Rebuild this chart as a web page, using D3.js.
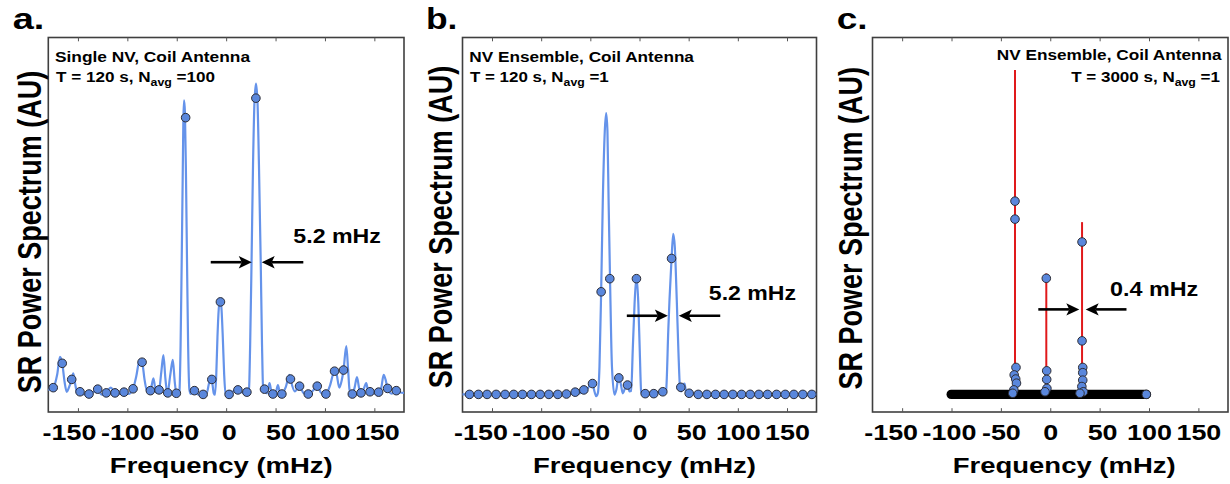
<!DOCTYPE html>
<html><head><meta charset="utf-8">
<script src="https://cdn.jsdelivr.net/npm/d3@7"></script>
<style>
html,body{margin:0;padding:0;background:#fff;}
svg{display:block;}
</style></head><body>
<svg id="chart" width="1230" height="484"></svg>
<script>
// ---------------- data ----------------
const xTickValues = [-150, -100, -50, 0, 50, 100, 150];
const xTickLabels = ["-150", "-100", "-50", "0", "50", "100", "150"];
const panelLetters = ["a.", "b.", "c."];
const titleLine1 = ["Single NV, Coil Antenna", "NV Ensemble, Coil Antenna", "NV Ensemble, Coil Antenna"];
const titleLine2Main = ["T = 120 s, N", "T = 120 s, N", "T = 3000 s, N"];
const titleLine2Sub = ["avg", "avg", "avg"];
const titleLine2End = [" =100", " =1", " =1"];
const widthLabels = ["5.2 mHz", "5.2 mHz", "0.4 mHz"];
const xAxisTitle = "Frequency (mHz)";
const yAxisTitle = "SR Power Spectrum (AU)";

// panel a: sampled points and interpolated spectrum
const aDotFreq = [-175.0,-165.9,-156.3,-147.9,-138.8,-130.0,-121.3,-112.5,-103.4,-94.2,-85.1,-76.7,-67.9,-59.1,-50.4,-41.0,-32.1,-23.3,-14.5,-5.8,3.0,11.9,21.0,30.1,38.8,47.3,56.4,65.1,74.3,83.1,92.2,101.0,109.7,118.8,127.7,136.5,145.6,154.3,163.4,172.2];
const aDotPower = [6.5,13.0,8.7,5.4,4.8,6.1,5.1,5.1,5.3,6.2,13.3,5.7,5.9,5.1,5.0,78.6,5.7,4.7,8.7,29.4,4.7,5.9,5.3,83.8,6.1,4.8,4.8,8.8,6.9,4.8,6.9,4.8,10.9,11.2,4.8,5.1,5.4,5.3,6.3,5.7];
const aCurveFreq = [-180,-175.0,-171.0,-168.2,-165.9,-163.5,-161.4,-158.5,-156.3,-154.7,-152.5,-150.5,-147.9,-143.5,-138.8,-134.5,-130.0,-126.0,-121.3,-116.8,-112.5,-108.0,-103.4,-99.0,-94.2,-91.0,-87.6,-85.1,-82.5,-80.0,-76.7,-73.6,-71.0,-67.9,-65.5,-63.5,-61.5,-59.5,-56.5,-54.0,-52.0,-50.4,-48.5,-47.3,-46.1,-45.0,-44.0,-43.3,-42.6,-41.7,-40.6,-39.6,-38.5,-37.2,-35.8,-32.1,-28.0,-23.3,-19.5,-17.5,-15.7,-14.5,-12.5,-11.3,-10.0,-8.8,-7.5,-6.1,-4.7,-3.4,-2.0,-0.6,3.0,7.5,11.9,16.5,21.0,22.9,24.3,25.7,27.2,28.7,30.2,31.7,33.2,35.0,36.3,37.6,38.8,41.3,43.9,45.7,47.3,50.0,52.4,54.5,56.4,60.5,64.1,65.1,69.5,74.3,78.5,83.1,87.5,92.2,96.5,101.0,105.0,109.7,111.5,114.5,117.0,118.8,121.6,123.5,124.9,127.7,130.0,132.4,134.5,136.5,139.0,141.8,143.8,145.6,150.0,154.3,157.0,159.4,161.5,163.4,167.5,172.2,176.0,180];
const aCurvePower = [5.9,6.5,10.0,14.7,13.0,8.0,5.4,7.0,8.7,10.3,7.0,4.9,5.4,4.6,4.8,5.3,6.1,4.6,5.1,6.5,5.1,4.8,5.3,4.8,6.2,9.5,13.8,13.3,8.5,5.6,5.7,9.0,5.2,5.9,11.0,15.2,9.0,4.8,10.0,13.9,8.0,5.0,4.7,5.5,18,40,62,78,83.2,80,62,40,18,6.0,4.8,5.7,4.6,4.7,5.2,7.5,9.6,8.7,5.0,4.6,10,20,27.5,30.3,27.5,20,10,4.8,4.7,5.6,5.9,5.2,5.3,5.0,18,40,66,83,87.7,83,66,40,18,5.5,6.1,5.0,7.7,5.5,4.8,5.0,7.2,5.0,4.8,6.8,9.9,8.8,5.5,6.9,5.0,4.8,5.6,6.9,5.0,4.8,7.0,10.9,10.4,6.5,8.5,11.2,17.6,11.0,5.9,4.8,6.5,9.3,6.5,5.1,6.0,7.7,5.5,5.4,5.0,5.3,6.5,9.9,8.5,6.3,4.9,5.7,5.2,5.1];

// panel b
const bDotFreq = [-172.9,-163.8,-155.0,-145.8,-136.7,-127.9,-119.0,-109.9,-101.0,-92.2,-83.1,-74.3,-65.4,-56.6,-47.8,-39.0,-30.2,-21.0,-12.2,-3.1,5.8,14.5,23.7,32.6,42.0,50.5,59.7,68.5,77.3,86.1,94.9,103.8,112.6,121.4,130.2,139.4,148.2,157.0,166.1,175.3];
const bDotPower = [4.7,4.7,4.7,4.7,4.7,4.7,4.7,4.7,4.7,4.7,4.7,4.8,5.3,5.9,7.6,32.1,35.6,9.1,7.2,35.6,4.9,4.9,5.4,41.0,6.6,5.0,4.7,4.7,4.7,4.7,4.7,4.7,4.7,4.7,4.7,4.7,4.7,4.7,4.7,4.7];
const bCurveFreq = [-180,-75,-65.4,-61,-56.6,-52,-49.5,-47.8,-45.5,-44,-42.4,-40.7,-39.0,-37.3,-35.3,-33.9,-32.6,-31.4,-30.0,-28.0,-25.4,-23.5,-21.1,-19.0,-17.0,-14.5,-12.2,-10.2,-8.5,-6.8,-5.0,-3.1,-1.2,0.3,1.7,3.5,5.8,14.5,20,23.7,25.5,27.1,29.3,30.5,32.6,34.3,35.9,37.9,39.6,41.4,42.5,44.0,45.8,47.5,50.5,60,180];
const bCurvePower = [4.7,4.7,5.3,5.0,5.9,6.5,8.2,7.6,5.2,4.2,5.0,12.1,32.1,56.6,75,79.8,75,56,36,12,4.6,6.0,9.8,7.5,5.0,6.5,7.2,5.5,5.6,17,29,36.1,29,16,5.4,4.5,4.9,4.9,5.2,5.4,4.9,5.9,22,29.9,41,47.6,44.1,29.9,16,5.9,5.5,7.2,7.6,5.2,5.0,4.7,4.7];

// panel c: dense (unresolved) baseline samples, resolved lines and off-baseline samples
const cBaselineSpan = [-100.3, 97.3];
const cBaselinePower = 4.7;
const cLineFreq = [-35.7, -4.0, 32.2];
const cLinePeak = [91.3, 37.0, 50.7];
const cDotFreq = [-35.7,-35.7,-34.7,-36.5,-35.0,-34.2,-36.9,-38.0,-4.0,-3.6,-3.6,-3.4,-5.3,32.2,32.2,32.9,32.9,32.9,32.0,33.5,30.1,97.3];
const cDotPower = [56.3,51.5,11.9,9.9,8.8,7.7,5.9,5.0,35.7,11.0,8.7,6.3,5.4,45.4,19.0,11.9,10.5,8.5,6.8,5.4,5.0,4.7];

// linewidth annotations (frequency / power coordinates)
const arrowTail = [[-15.6, 78.1], [-12.9, 82.1], [-12.1, 77.2]];
const arrowTip = [[25.9, 36.0], [28.8, 40.0], [29.4, 35.9]];
const arrowLevel = [40.0, 25.7, 27.4];
const widthLabelFreq = [68.0, 70.5, 60.5];
const widthLabelLevel = [45.1, 29.9, 31.05];

// ---------------- layout / style ----------------
const FONT = '"Liberation Sans", Arial, Helvetica, sans-serif';
const yTop = 37.5, yBottom = 412;
const panelRange = [[48.3, 404], [462.5, 816.5], [872.5, 1228]];
const layout = [
  {letterX: 12.7, letterW: 29, t1: {x: 55, y: 61.7, w: 195, a: "start"}, t2: {x: 56, y: 82.3, w: 158, a: "start"},
   xlabCx: 221.3, ylabX: 40.7, ylabCy: 232, tickShift: 2.5, annoW: 86},
  {letterX: 426, letterW: 29, t1: {x: 469.3, y: 61.7, w: 224.7, a: "start"}, t2: {x: 470, y: 82.3, w: 137.7, a: "start"},
   xlabCx: 644.5, ylabX: 451.7, ylabCy: 227, tickShift: 0, annoW: 85.7},
  {letterX: 836.7, letterW: 28.3, t1: {x: 1221.7, y: 60, w: 225, a: "end"}, t2: {x: 1220, y: 81.7, w: 147.7, a: "end"},
   xlabCx: 1064.2, ylabX: 861.7, ylabCy: 228.3, tickShift: 0, annoW: 86.7}
];
const labelShift = {"-150": -11.5, "-100": -2.5, "50": 2.5};
const LINE_COLOR = "#6593ea", DOT_FILL = "#5a87dc", DOT_STROKE = "#2d2d35", RED = "#e0191b";
const DOT_R = 4.3;

const svg = d3.select("#chart");
const y = d3.scaleLinear().domain([0, 100]).range([yBottom, yTop]);

function addText(parent, o) {
  const g = parent.append("g");
  const t = g.append("text")
    .attr("font-family", FONT).attr("font-weight", "bold")
    .attr("font-size", o.size).attr("text-anchor", o.anchor || "start").attr("fill", "#000");
  if (o.build) o.build(t); else t.text(o.text);
  let sx = o.sx || 1;
  if (o.width) {
    const bb = t.node().getBBox();
    sx = o.width / Math.max(1, bb.width - 0.07 * o.size);
  }
  g.attr("transform", `translate(${o.x},${o.y}) scale(${sx},1)` + (o.rotate ? ` rotate(${o.rotate})` : ""));
  return g;
}

function drawArrow(g, x0, x1, yy) {
  const dir = Math.sign(x1 - x0), L = 13, hh = 6.2, notch = 3;
  g.append("line").attr("x1", x0).attr("x2", x1 - dir * (L - notch)).attr("y1", yy).attr("y2", yy)
    .attr("stroke", "#000").attr("stroke-width", 2.6);
  g.append("path")
    .attr("d", `M${x1},${yy} L${x1 - dir * L},${yy - hh} L${x1 - dir * (L - notch)},${yy} L${x1 - dir * L},${yy + hh} Z`)
    .attr("fill", "#000");
}

const series = [
  {df: aDotFreq, dp: aDotPower, cf: aCurveFreq, cp: aCurvePower},
  {df: bDotFreq, dp: bDotPower, cf: bCurveFreq, cp: bCurvePower},
  null
];

panelRange.forEach((rng, i) => {
  const L = layout[i];
  const x = d3.scaleLinear().domain([-180, 180]).range(rng);
  const g = svg.append("g");

  // frame
  g.append("rect").attr("x", rng[0]).attr("y", yTop).attr("width", rng[1] - rng[0]).attr("height", yBottom - yTop)
    .attr("fill", "none").attr("stroke", "#3f3f3f").attr("stroke-width", 1.6);

  // axes (inward ticks top and bottom)
  const axB = g.append("g").attr("transform", `translate(0,${yBottom})`)
    .call(d3.axisBottom(x).tickValues(xTickValues).tickSize(-3.8).tickFormat((d, k) => xTickLabels[k]));
  const axT = g.append("g").attr("transform", `translate(0,${yTop})`)
    .call(d3.axisTop(x).tickValues(xTickValues).tickSize(-3.8).tickFormat(""));
  [axB, axT].forEach(a => { a.select(".domain").remove(); a.selectAll(".tick line").attr("stroke", "#555").attr("stroke-width", 1); });
  axB.selectAll(".tick text")
    .attr("y", null).attr("dy", null)
    .attr("font-family", FONT).attr("font-weight", "bold").attr("font-size", 21.5).attr("fill", "#000")
    .attr("transform", (d, k) => `translate(${(labelShift[xTickLabels[k]] || 0) + L.tickShift},${440 - yBottom}) scale(1.25,1)`);

  // data
  if (series[i]) {
    const s = series[i];
    const curve = s.cf.map((f, k) => [f, s.cp[k]]);
    g.append("path").datum(curve)
      .attr("d", d3.line().x(d => x(d[0])).y(d => y(d[1])).curve(d3.curveMonotoneX))
      .attr("fill", "none").attr("stroke", LINE_COLOR).attr("stroke-width", 2.2);
    g.selectAll("circle.pt").data(s.df.map((f, k) => [f, s.dp[k]])).join("circle").attr("class", "pt")
      .attr("cx", d => x(d[0])).attr("cy", d => y(d[1])).attr("r", DOT_R)
      .attr("fill", DOT_FILL).attr("stroke", DOT_STROKE).attr("stroke-width", 1);
  } else {
    cLineFreq.forEach((f, k) => {
      g.append("line").attr("x1", x(f)).attr("x2", x(f)).attr("y1", y(cBaselinePower)).attr("y2", y(cLinePeak[k]))
        .attr("stroke", RED).attr("stroke-width", 2);
    });
    g.append("path").datum(cBaselineSpan.map(f => [f, cBaselinePower]))
      .attr("d", d3.line().x(d => x(d[0])).y(d => y(d[1])))
      .attr("stroke", "#000").attr("stroke-width", 9.4).attr("stroke-linecap", "round").attr("fill", "none");
    g.selectAll("circle.pt").data(cDotFreq.map((f, k) => [f, cDotPower[k]])).join("circle").attr("class", "pt")
      .attr("cx", d => x(d[0])).attr("cy", d => y(d[1])).attr("r", DOT_R)
      .attr("fill", DOT_FILL).attr("stroke", DOT_STROKE).attr("stroke-width", 1);
  }

  // linewidth arrows + label
  drawArrow(g, x(arrowTail[i][0]), x(arrowTip[i][0]), y(arrowLevel[i]));
  drawArrow(g, x(arrowTail[i][1]), x(arrowTip[i][1]), y(arrowLevel[i]));
  addText(g, {x: x(widthLabelFreq[i]), y: y(widthLabelLevel[i]), size: 21, text: widthLabels[i], width: L.annoW});

  // titles
  addText(g, {x: L.t1.x, y: L.t1.y, size: 14.5, anchor: L.t1.a, text: titleLine1[i], width: L.t1.w});
  addText(g, {x: L.t2.x, y: L.t2.y, size: 14.5, anchor: L.t2.a, width: L.t2.w, build: t => {
    t.append("tspan").text(titleLine2Main[i]);
    t.append("tspan").attr("font-size", 10.5).attr("dy", 4).text(titleLine2Sub[i]);
    t.append("tspan").attr("dy", -4).text(titleLine2End[i]);
  }});

  // panel letter
  addText(g, {x: L.letterX, y: 29.3, size: 30, text: panelLetters[i], width: L.letterW});

  // axis titles
  addText(g, {x: L.xlabCx, y: 473.3, size: 22.3, anchor: "middle", text: xAxisTitle, width: 221});
  addText(g, {x: L.ylabX, y: L.ylabCy, size: 27, anchor: "middle", text: yAxisTitle, sx: 1.24, rotate: -90});
});
</script>
</body></html>
